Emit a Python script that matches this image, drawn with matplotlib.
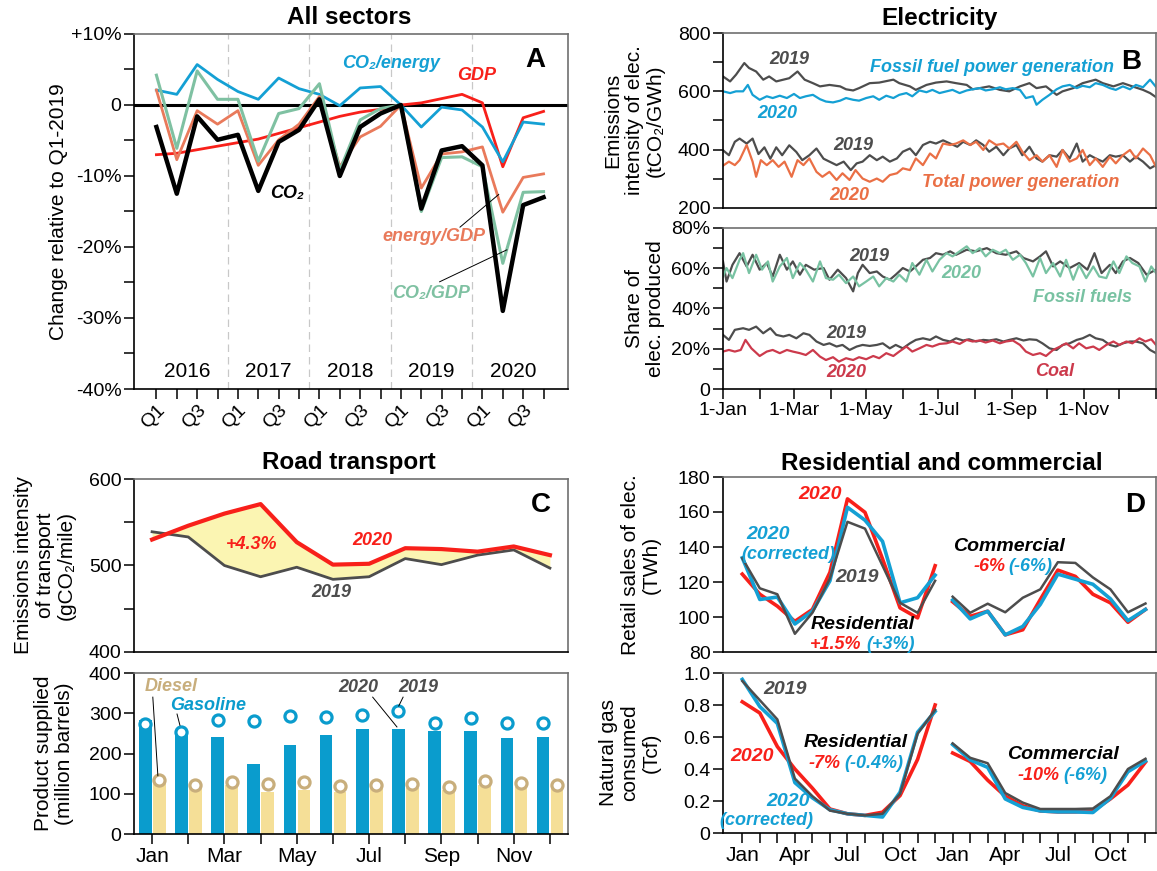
import matplotlib.pyplot as plt
import numpy as np

plt.rcParams['font.family'] = ['Liberation Sans', 'DejaVu Sans']
plt.rcParams['font.size'] = 14
plt.rcParams['xtick.direction'] = 'out'
plt.rcParams['ytick.direction'] = 'out'

# colours
BLACK = '#000000'
GRAY = '#4d4d4d'
RED = '#f8201a'
BLUE = '#14a0d4'
ORANGE = '#e97a5b'
GREEN = '#7fc1a2'
B_ORANGE = '#ea6f45'
B_GREEN = '#78c2a2'
COAL = '#cc3a4c'
GAS_BLUE = '#0a9ccd'
DIESEL = '#f5df97'
DIESEL_EDGE = '#c8ae7c'
FILL_YEL = '#fbf5b2'

# ---------------- A: all sectors, quarterly change vs Q1-2019 (%)
quarters = ['Q1', 'Q2', 'Q3', 'Q4'] * 5
years = ['2016', '2017', '2018', '2019', '2020']
co2 = [-3.1, -12.5, -1.6, -4.9, -4.2, -12.1, -5.2, -3.5, 0.8, -10.0,
       -3.1, -1.2, 0.0, -14.6, -6.4, -5.8, -8.5, -29.0, -14.1, -13.0]
gdp = [-7.0, -6.8, -6.3, -5.8, -5.3, -4.8, -4.0, -3.2, -2.4, -1.6,
       -1.0, -0.6, 0.0, 0.3, 0.9, 1.5, 0.3, -8.7, -1.8, -0.9]
co2_energy = [2.1, 1.5, 5.7, 3.6, 1.9, 0.8, 3.8, 2.3, 1.5, -0.1,
              2.4, 2.6, 0.0, -3.1, -0.3, -0.7, -3.1, -8.0, -2.4, -2.7]
energy_gdp = [2.1, -7.7, -0.8, -2.7, -0.8, -8.5, -4.9, -2.7, 1.2, -8.7,
              -4.5, -3.0, 0.0, -11.7, -6.9, -6.6, -5.9, -15.1, -10.2, -9.7]
co2_gdp = [4.2, -6.1, 4.8, 0.8, 0.8, -7.9, -1.2, -0.5, 3.0, -9.2,
           -2.1, -0.5, 0.0, -15.0, -7.4, -7.3, -8.7, -22.3, -12.3, -12.2]

# ---------------- B: electricity, daily values (day of year, value)
ffi19_day = [0, 6, 11, 18, 22, 28, 34, 39, 45, 51, 56, 63, 69, 76, 82, 90, 99, 104, 110, 115,
             124, 132, 144, 149, 158, 163, 172, 180, 189, 197, 206, 211, 217, 225, 234, 242,
             251, 259, 265, 273, 282, 287, 296, 304, 315, 321, 330, 338, 346, 355, 361, 366]
ffi19 = [651, 634, 657, 697, 680, 668, 640, 651, 634, 640, 645, 668, 640, 628, 617, 622, 617, 607,
         603, 611, 628, 630, 640, 628, 617, 605, 622, 630, 634, 628, 622, 607, 611, 617, 605, 600,
         617, 628, 611, 617, 588, 600, 611, 628, 640, 628, 617, 628, 617, 605, 594, 580]
ffi20_day = [0, 6, 11, 17, 21, 25, 31, 37, 42, 48, 54, 60, 65, 70, 76, 82, 87, 93, 99, 104,
             110, 115, 121, 127, 132, 138, 144, 149, 155, 160, 166, 172, 177, 183, 189, 194,
             200, 206, 211, 217, 222, 228, 234, 239, 245, 251, 256, 262, 265, 270, 276, 282,
             287, 293, 299, 304, 310, 315, 321, 327, 332, 338, 344, 349, 355, 361, 366]
ffi20 = [600, 594, 600, 600, 622, 588, 571, 583, 577, 585, 577, 591, 577, 583, 588, 573, 565, 562,
         568, 577, 571, 568, 577, 583, 571, 585, 577, 588, 594, 583, 603, 597, 605, 594, 600, 605,
         594, 603, 607, 611, 603, 607, 614, 607, 611, 605, 577, 583, 554, 571, 588, 607, 617, 622,
         611, 619, 614, 628, 622, 611, 605, 617, 607, 622, 614, 640, 615]
tot19_day = [0, 5, 10, 14, 20, 25, 30, 35, 40, 45, 50, 56, 62, 67, 73, 79, 85, 90, 96, 102,
             108, 113, 118, 124, 130, 135, 141, 147, 152, 158, 163, 169, 175, 180, 186, 192,
             198, 203, 209, 214, 220, 225, 231, 237, 242, 248, 253, 259, 265, 270, 276, 282,
             287, 293, 299, 304, 310, 315, 321, 327, 332, 338, 344, 349, 355, 361, 366]
tot19 = [398, 381, 427, 438, 421, 438, 385, 408, 369, 408, 381, 415, 392, 364, 381, 404, 369, 359,
         347, 359, 330, 353, 359, 381, 364, 376, 359, 370, 393, 404, 381, 416, 427, 421, 432, 421,
         410, 427, 416, 432, 416, 393, 410, 381, 404, 416, 381, 410, 370, 359, 381, 376, 399, 370,
         421, 359, 381, 370, 359, 381, 376, 381, 359, 376, 359, 336, 347]
tot20_day = [0, 5, 10, 14, 20, 25, 28, 32, 37, 42, 47, 52, 58, 63, 68, 73, 79, 84, 90, 96,
             101, 107, 112, 118, 124, 130, 135, 141, 147, 152, 158, 163, 169, 175, 180, 186,
             192, 197, 203, 209, 214, 220, 225, 231, 237, 242, 248, 253, 259, 265, 270, 276,
             282, 287, 293, 299, 304, 310, 315, 321, 327, 332, 338, 344, 349, 355, 361, 366]
tot20 = [345, 359, 347, 364, 416, 359, 307, 364, 347, 364, 341, 359, 307, 364, 347, 370, 324, 307,
         324, 296, 319, 296, 330, 301, 290, 301, 290, 313, 319, 336, 330, 370, 347, 387, 370, 421,
         416, 421, 432, 416, 427, 399, 432, 416, 421, 404, 427, 393, 364, 381, 359, 381, 341, 399,
         359, 370, 399, 347, 370, 341, 376, 353, 381, 399, 370, 404, 381, 341]

fos19_day = [0, 3, 8, 14, 20, 25, 31, 37, 42, 48, 54, 59, 65, 70, 77, 85, 90, 97, 104, 110,
             114, 118, 124, 130, 135, 141, 146, 152, 158, 163, 169, 175, 180, 186, 192, 197,
             206, 214, 223, 231, 239, 248, 254, 262, 268, 273, 279, 285, 293, 301, 308, 314,
             320, 327, 332, 338, 344, 351, 358, 366]
fos19 = [63.4, 53.4, 61.7, 67.5, 60.9, 66.7, 59.3, 62.6, 55.9, 66.7, 59.3, 63.4, 56.8, 61.7, 59.3,
         60.1, 54.3, 59.3, 55.1, 48.5, 57.6, 61.7, 57.6, 58.4, 55.9, 54.3, 56.8, 60.1, 58.4, 60.9,
         64.2, 65.1, 67.5, 66.7, 68.4, 66.7, 69.2, 68.4, 70.0, 67.5, 66.7, 68.4, 65.1, 63.4, 65.9,
         68.4, 60.9, 63.4, 60.1, 62.6, 59.3, 67.5, 57.6, 61.7, 57.6, 63.4, 65.1, 62.6, 56.8, 59.3]
fos20_day = [0, 3, 8, 14, 17, 22, 28, 33, 38, 42, 48, 54, 59, 65, 70, 76, 82, 87, 93, 98,
             104, 110, 115, 121, 127, 132, 138, 144, 149, 155, 160, 166, 172, 177, 183, 189,
             194, 200, 206, 211, 217, 222, 228, 234, 239, 245, 251, 256, 262, 268, 273, 279,
             285, 290, 296, 301, 307, 313, 318, 324, 330, 335, 341, 346, 352, 357, 362, 366]
fos20 = [55.9, 60.1, 55.1, 64.2, 67.5, 57.6, 66.7, 59.3, 63.4, 53.4, 60.9, 65.1, 55.1, 62.6, 59.3,
         53.4, 63.4, 55.1, 54.3, 56.8, 52.6, 55.9, 51.0, 53.4, 55.9, 51.0, 55.1, 53.4, 56.8, 53.4,
         62.6, 56.8, 64.2, 58.4, 64.2, 67.5, 65.9, 68.4, 70.9, 67.5, 70.0, 65.9, 69.2, 67.5, 69.2,
         64.2, 66.7, 62.6, 55.9, 65.1, 57.6, 62.6, 55.9, 64.2, 54.3, 61.7, 55.1, 60.9, 55.9, 55.1,
         63.4, 57.6, 65.9, 62.6, 60.9, 53.4, 60.9, 57.6]
coal19_day = [0, 5, 10, 17, 22, 28, 34, 40, 45, 51, 56, 62, 68, 73, 79, 85, 90, 96, 101, 107,
              113, 118, 124, 130, 135, 141, 146, 152, 158, 163, 169, 175, 180, 186, 192, 197,
              203, 208, 214, 220, 225, 231, 237, 242, 248, 254, 259, 265, 270, 276, 282, 287,
              293, 299, 304, 310, 315, 321, 327, 332, 338, 344, 349, 355, 361, 366]
coal19 = [26.9, 24.4, 29.4, 30.2, 29.4, 31.0, 27.7, 30.2, 26.9, 26.1, 26.9, 25.2, 27.7, 26.9, 23.6,
          21.9, 22.7, 21.1, 21.9, 19.4, 21.1, 21.9, 21.4, 21.9, 22.7, 20.2, 21.9, 20.2, 22.7, 24.4,
          25.2, 24.4, 26.1, 24.4, 23.6, 25.2, 24.1, 24.7, 23.6, 24.4, 24.1, 24.7, 23.6, 24.4, 25.2,
          24.1, 24.7, 24.4, 22.7, 20.2, 19.4, 21.9, 22.7, 24.4, 25.2, 26.9, 25.2, 24.4, 21.9, 21.1,
          22.7, 23.6, 23.6, 22.7, 19.4, 17.8]
coal20_day = [0, 5, 10, 15, 19, 24, 31, 37, 42, 48, 54, 59, 65, 70, 76, 82, 87, 93, 98, 104,
              110, 115, 121, 127, 132, 138, 144, 149, 155, 160, 166, 172, 177, 183, 189, 194,
              200, 206, 211, 217, 222, 228, 234, 239, 245, 251, 256, 262, 268, 273, 279, 285,
              290, 296, 301, 307, 313, 318, 324, 330, 335, 341, 346, 352, 357, 362, 366]
coal20 = [18.6, 19.4, 18.6, 19.4, 24.4, 20.2, 16.4, 18.6, 19.4, 17.8, 19.4, 18.6, 17.8, 16.9, 19.4,
          16.1, 14.4, 15.8, 13.6, 15.3, 14.4, 15.8, 14.8, 16.4, 15.3, 17.8, 16.4, 18.6, 21.1, 18.6,
          20.2, 21.9, 21.1, 22.4, 22.7, 23.6, 22.4, 24.4, 23.6, 24.1, 23.1, 24.1, 22.7, 23.6, 24.1,
          21.9, 18.6, 16.9, 17.8, 16.4, 19.4, 21.1, 22.7, 20.2, 22.7, 20.2, 21.1, 19.4, 21.9, 23.6,
          21.9, 23.6, 22.7, 25.2, 23.6, 24.7, 21.9]
month_start = [0, 31, 60, 91, 121, 152, 182, 213, 244, 274, 305, 335, 366]
b_labels = ['1-Jan', '', '1-Mar', '', '1-May', '', '1-Jul', '', '1-Sep', '', '1-Nov', '', '']

# ---------------- C: road transport
months = ['Jan', 'Feb', 'Mar', 'Apr', 'May', 'Jun', 'Jul', 'Aug', 'Sep', 'Oct', 'Nov', 'Dec']
intensity20 = [530, 546, 560, 571, 527, 501, 502, 520, 519, 516, 522, 512]
intensity19 = [539, 533, 500, 487, 498, 484, 487, 508, 501, 512, 518, 497]
gasoline20 = [282, 259, 241, 174, 222, 247, 261, 262, 256, 255, 238, 241]
gasoline19 = [273, 254, 284, 281, 294, 290, 295, 305, 276, 288, 276, 277]
diesel20 = [126, 118, 122, 105, 110, 105, 114, 114, 110, 122, 116, 114]
diesel19 = [134, 121, 129, 124, 128, 120, 121, 125, 118, 131, 126, 122]

# ---------------- D: residential and commercial
res_elec19 = [133.6, 116.4, 113.0, 90.4, 102.4, 122.0, 154.4, 150.5, 129.3, 108.1, 102.4, 120.7]
res_elec20 = [124.5, 113.0, 106.2, 97.5, 104.3, 125.5, 167.5, 159.8, 133.2, 105.2, 99.5, 129.3]
res_elec20c = [133.8, 110.0, 111.4, 96.0, 103.3, 120.7, 162.7, 155.3, 143.2, 108.1, 111.0, 123.9]
com_elec19 = [111.6, 102.4, 107.6, 102.7, 111.0, 115.8, 131.3, 130.9, 122.6, 115.8, 102.7, 107.7]
com_elec20 = [108.7, 100.4, 103.3, 89.8, 92.7, 110.0, 126.8, 123.2, 113.0, 108.1, 97.0, 104.3]
com_elec20c = [109.7, 98.9, 103.3, 89.8, 94.6, 107.2, 124.5, 121.6, 118.7, 110.4, 97.9, 104.3]
res_gas19 = [0.95, 0.83, 0.71, 0.34, 0.23, 0.14, 0.12, 0.11, 0.12, 0.245, 0.62, 0.77]
res_gas20 = [0.82, 0.75, 0.54, 0.40, 0.28, 0.15, 0.12, 0.11, 0.13, 0.234, 0.46, 0.80]
res_gas20c = [0.96, 0.79, 0.685, 0.315, 0.22, 0.145, 0.12, 0.11, 0.10, 0.255, 0.63, 0.76]
com_gas19 = [0.56, 0.47, 0.436, 0.25, 0.19, 0.15, 0.15, 0.15, 0.153, 0.23, 0.40, 0.464]
com_gas20 = [0.50, 0.447, 0.33, 0.23, 0.17, 0.138, 0.132, 0.132, 0.138, 0.213, 0.30, 0.443]
com_gas20c = [0.553, 0.457, 0.41, 0.213, 0.16, 0.138, 0.132, 0.132, 0.128, 0.217, 0.383, 0.45]
d_labels = ['Jan', '', '', 'Apr', '', '', 'Jul', '', '', 'Oct', '', ''] * 2


def frame(ax):
    for s in ['top', 'right']:
        ax.spines[s].set_color('#707070')
    for s in ['left', 'bottom']:
        ax.spines[s].set_color('black')
    for s in ax.spines.values():
        s.set_linewidth(1.2)
    ax.tick_params(which='major', length=7, width=1.1, pad=2)
    ax.tick_params(which='minor', length=7, width=1.1)


def ylab(ax, text, x):
    ax.set_ylabel(text, fontsize=15, va='center', linespacing=1.15)
    ax.yaxis.set_label_coords(x, 0.5)


def note(ax, x, y, s, c, size=13, ha='center', **kw):
    ax.text(x, y, s, color=c, fontsize=size, fontweight='bold', fontstyle='italic',
            ha=ha, va='center', **kw)


W, H = 1157, 871


def box(l, t, r, b):
    return [l / W, 1 - b / H, (r - l) / W, (b - t) / H]


fig = plt.figure(figsize=(W / 100, H / 100), dpi=100)

# ---------- panel A
axA = fig.add_axes(box(134, 34, 568, 389))
frame(axA)
qx = np.arange(len(co2))
for xv in [3.5, 7.5, 11.5, 15.5]:
    axA.axvline(xv, color='#c8c8c8', lw=0.9, ls=(0, (6, 4)), zorder=0)
axA.axhline(0, color='black', lw=2.2, zorder=1)
axA.plot(qx, gdp, color=RED, lw=2.0, zorder=3)
axA.plot(qx, co2_energy, color=BLUE, lw=2.0, zorder=3)
axA.plot(qx, energy_gdp, color=ORANGE, lw=2.0, zorder=3)
axA.plot(qx, co2_gdp, color=GREEN, lw=2.2, zorder=3)
axA.plot(qx, co2, color=BLACK, lw=3.2, zorder=4)
axA.set_xlim(-1.1, 20.2)
axA.set_ylim(-40, 10)
axA.set_yticks([-40, -30, -20, -10, 0, 10])
axA.set_yticklabels(['-40%', '-30%', '-20%', '-10%', '0', '+10%'])
axA.set_yticks([-35, -25, -15, -5, 5], minor=True)
axA.set_xticks(qx)
axA.set_xticklabels([q if q in ('Q1', 'Q3') else '' for q in quarters],
                    rotation=45, ha='right', va='top', rotation_mode='anchor')
for i, yr in enumerate(years):
    axA.text(4 * i + 1.5, -37.6, yr, ha='center', va='center', fontsize=15)
ylab(axA, 'Change relative to Q1-2019', -0.175)
note(axA, 11.5, 5.9, 'CO\u2082/energy', BLUE)
note(axA, 15.7, 4.2, 'GDP', RED)
note(axA, 6.4, -12.4, 'CO\u2082', BLACK)
note(axA, 13.6, -18.5, 'energy/GDP', ORANGE)
note(axA, 13.5, -26.5, 'CO\u2082/GDP', GREEN)
axA.plot([14.9, 16.8], [-17.2, -12.6], color='black', lw=0.7, zorder=5)
axA.plot([13.9, 17.2], [-24.9, -20.4], color='black', lw=0.7, zorder=5)
axA.text(18.6, 6.3, 'A', fontsize=20, fontweight='bold', ha='center', va='center')
fig.text(349 / W, 1 - 18 / H, 'All sectors', fontsize=17.5, fontweight='bold', ha='center', va='center')

# ---------- panel B (top)
axB1 = fig.add_axes(box(723, 33, 1156, 208))
frame(axB1)
axB1.plot(ffi19_day, ffi19, color=GRAY, lw=1.6)
axB1.plot(ffi20_day, ffi20, color=BLUE, lw=1.6)
axB1.plot(tot19_day, tot19, color=GRAY, lw=1.6)
axB1.plot(tot20_day, tot20, color=B_ORANGE, lw=1.6)
axB1.set_xlim(0, 366)
axB1.set_ylim(200, 800)
axB1.set_yticks([200, 400, 600, 800])
axB1.set_yticks([300, 500, 700], minor=True)
axB1.set_xticks([])
ylab(axB1, 'Emissions\nintensity of elec.\n(tCO\u2082/GWh)', -0.205)
note(axB1, 56, 708, '2019', GRAY)
note(axB1, 227, 683, 'Fossil fuel power generation', BLUE)
note(axB1, 46, 525, '2020', BLUE)
note(axB1, 110, 413, '2019', GRAY)
note(axB1, 252, 287, 'Total power generation', B_ORANGE)
note(axB1, 107, 244, '2020', B_ORANGE)
axB1.text(345, 700, 'B', fontsize=20, fontweight='bold', ha='center', va='center')
fig.text(940 / W, 1 - 18 / H, 'Electricity', fontsize=17.5, fontweight='bold', ha='center', va='center')

# ---------- panel B (bottom)
axB2 = fig.add_axes(box(723, 228, 1156, 389))
frame(axB2)
axB2.plot(fos19_day, fos19, color=GRAY, lw=1.6)
axB2.plot(fos20_day, fos20, color=B_GREEN, lw=1.6)
axB2.plot(coal19_day, coal19, color=GRAY, lw=1.6)
axB2.plot(coal20_day, coal20, color=COAL, lw=1.6)
axB2.set_xlim(0, 366)
axB2.set_ylim(0, 80)
axB2.set_yticks([0, 20, 40, 60, 80])
axB2.set_yticklabels(['0', '20%', '40%', '60%', '80%'])
axB2.set_yticks([10, 30, 50, 70], minor=True)
axB2.set_xticks(month_start)
axB2.set_xticklabels(b_labels)
ylab(axB2, 'Share of\nelec. produced', -0.18)
note(axB2, 124, 65.9, '2019', GRAY)
note(axB2, 201, 57.6, '2020', B_GREEN)
note(axB2, 304, 45.6, 'Fossil fuels', B_GREEN)
note(axB2, 104, 27.7, '2019', GRAY)
note(axB2, 104, 8.1, '2020', COAL)
note(axB2, 280, 8.6, 'Coal', COAL)

# ---------- panel C (top)
mx = np.arange(12)
axC1 = fig.add_axes(box(134, 479, 568, 652))
frame(axC1)
axC1.fill_between(mx, intensity19, intensity20, color=FILL_YEL, lw=0)
axC1.plot(mx, intensity19, color=GRAY, lw=2.0)
axC1.plot(mx, intensity20, color=RED, lw=3.0)
axC1.set_xlim(-0.5, 11.5)
axC1.set_ylim(400, 600)
axC1.set_yticks([400, 500, 600])
axC1.set_yticks([450, 550], minor=True)
axC1.set_xticks([])
ylab(axC1, 'Emissions intensity\nof transport\n(gCO\u2082/mile)', -0.205)
note(axC1, 2.75, 524, '+4.3%', RED)
note(axC1, 6.1, 529, '2020', RED)
note(axC1, 4.95, 469, '2019', GRAY)
axC1.text(10.75, 570, 'C', fontsize=20, fontweight='bold', ha='center', va='center')
fig.text(349 / W, 1 - 462 / H, 'Road transport', fontsize=17.5, fontweight='bold', ha='center', va='center')

# ---------- panel C (bottom)
axC2 = fig.add_axes(box(134, 673, 568, 834))
frame(axC2)
axC2.bar(mx - 0.19, gasoline20, width=0.35, color=GAS_BLUE, zorder=2)
axC2.bar(mx + 0.2, diesel20, width=0.35, color=DIESEL, zorder=2)
axC2.plot(mx - 0.19, gasoline19, 'o', ms=8, mew=2.3, mfc='white', mec=GAS_BLUE, zorder=4)
axC2.plot(mx + 0.2, diesel19, 'o', ms=8, mew=2.3, mfc='white', mec=DIESEL_EDGE, zorder=4)
axC2.set_xlim(-0.5, 11.5)
axC2.set_ylim(0, 400)
axC2.set_yticks([0, 100, 200, 300, 400])
axC2.set_xticks(mx)
axC2.set_xticklabels([m if i % 2 == 0 else '' for i, m in enumerate(months)], fontsize=15)
ylab(axC2, 'Product supplied\n(million barrels)', -0.184)
note(axC2, 0.53, 367, 'Diesel', DIESEL_EDGE)
note(axC2, 1.55, 320, 'Gasoline', GAS_BLUE)
note(axC2, 5.7, 363, '2020', GRAY)
note(axC2, 7.37, 363, '2019', GRAY)
axC2.plot([0.02, 0.16], [340, 145], color='black', lw=0.7, zorder=5)
axC2.plot([0.69, 0.77], [298, 270], color='black', lw=0.7, zorder=5)
axC2.plot([6.1, 6.77], [340, 266], color='black', lw=0.7, zorder=5)
axC2.plot([6.94, 6.82], [340, 318], color='black', lw=0.7, zorder=5)

# ---------- panel D (top)
rx = np.arange(12)
cx = np.arange(12, 24)
axD1 = fig.add_axes(box(723, 477, 1156, 652))
frame(axD1)
for xs, a, b, c in [(rx, res_elec20, res_elec20c, res_elec19), (cx, com_elec20, com_elec20c, com_elec19)]:
    axD1.plot(xs, a, color=RED, lw=2.6)
    axD1.plot(xs, b, color=BLUE, lw=2.6)
    axD1.plot(xs, c, color=GRAY, lw=1.8)
axD1.set_xlim(-1.1, 23.6)
axD1.set_ylim(80, 180)
axD1.set_yticks([80, 100, 120, 140, 160, 180])
axD1.set_xticks([])
ylab(axD1, 'Retail sales of elec.\n(TWh)', -0.19)
note(axD1, 4.45, 170, '2020', RED, size=14)
note(axD1, 1.45, 147, '2020', BLUE, size=14)
note(axD1, 2.6, 135.5, '(corrected)', BLUE)
note(axD1, 6.55, 122.6, '2019', GRAY, size=14)
note(axD1, 6.85, 96, 'Residential', BLACK, size=14)
note(axD1, 6.8, 84.5, '+1.5%', RED, ha='right')
note(axD1, 7.05, 84.5, '(+3%)', BLUE, ha='left')
note(axD1, 15.2, 140.5, 'Commercial', BLACK, size=14)
note(axD1, 15.0, 129, '-6%', RED, ha='right')
note(axD1, 15.2, 129, '(-6%)', BLUE, ha='left')
axD1.text(22.4, 164, 'D', fontsize=20, fontweight='bold', ha='center', va='center')
fig.text(942 / W, 1 - 463 / H, 'Residential and commercial', fontsize=17.5, fontweight='bold',
         ha='center', va='center')

# ---------- panel D (bottom)
axD2 = fig.add_axes(box(723, 673, 1156, 833))
frame(axD2)
for xs, a, b, c in [(rx, res_gas20, res_gas20c, res_gas19), (cx, com_gas20, com_gas20c, com_gas19)]:
    axD2.plot(xs, a, color=RED, lw=2.6)
    axD2.plot(xs, b, color=BLUE, lw=2.6)
    axD2.plot(xs, c, color=GRAY, lw=1.8)
axD2.set_xlim(-1.1, 23.6)
axD2.set_ylim(0, 1.0)
axD2.set_yticks([0, 0.2, 0.4, 0.6, 0.8, 1.0])
axD2.set_yticklabels(['0', '0.2', '0.4', '0.6', '0.8', '1.0'])
axD2.set_xticks(np.arange(24))
axD2.set_xticklabels(d_labels, fontsize=15)
ylab(axD2, 'Natural gas\nconsumed\n(Tcf)', -0.215)
note(axD2, 2.45, 0.894, '2019', GRAY, size=14)
note(axD2, 0.58, 0.48, '2020', RED, size=14)
note(axD2, 2.6, 0.20, '2020', BLUE, size=14)
note(axD2, 1.37, 0.08, '(corrected)', BLUE)
note(axD2, 6.45, 0.564, 'Residential', BLACK, size=14)
note(axD2, 5.6, 0.436, '-7%', RED, ha='right')
note(axD2, 5.8, 0.436, '(-0.4%)', BLUE, ha='left')
note(axD2, 18.3, 0.49, 'Commercial', BLACK, size=14)
note(axD2, 18.1, 0.357, '-10%', RED, ha='right')
note(axD2, 18.3, 0.357, '(-6%)', BLUE, ha='left')

fig.savefig('out.png', dpi=100)
